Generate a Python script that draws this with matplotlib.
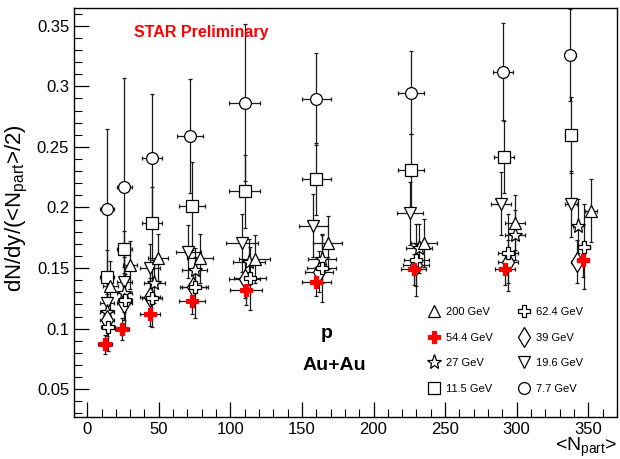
#!/usr/bin/env python3
"""Proton dN/dy per participant pair vs <Npart> in Au+Au, STAR BES."""

import matplotlib
matplotlib.use("Agg")
import matplotlib.pyplot as plt
from matplotlib.lines import Line2D
from matplotlib.ticker import MultipleLocator

plt.rcParams['font.family'] = ['Liberation Sans', 'DejaVu Sans']

# centrality-wise horizontal (Npart) uncertainties, shared by all energies
npart_err = [5, 5, 7, 9, 11, 10, 9, 7, 4]

# 7.7 GeV
npart_7 = [13.9, 26.0, 45.0, 72.0, 110.0, 160.0, 226.0, 290.5, 337.5]
val_7 = [0.1988, 0.2167, 0.2406, 0.2592, 0.2865, 0.2895, 0.2947, 0.312, 0.3256]
err_7 = [0.066, 0.09, 0.053, 0.047, 0.065, 0.038, 0.034, 0.040, 0.038]

# 11.5 GeV
npart_11 = [14.0, 26.0, 45.0, 73.0, 110.0, 160.0, 226.0, 291.0, 338.0]
val_11 = [0.1429, 0.1655, 0.187, 0.2012, 0.2134, 0.2235, 0.2307, 0.2417, 0.2598]
err_11 = [0.022, 0.015, 0.03, 0.036, 0.03, 0.03, 0.03, 0.03, 0.031]

# 19.6 GeV
npart_19 = [14.0, 26.0, 44.0, 70.7, 108.0, 158.0, 225.5, 289.0, 338.0]
val_19 = [0.121, 0.1388, 0.1498, 0.1635, 0.1705, 0.185, 0.1952, 0.2029, 0.2029]
err_19 = [0.018, 0.02, 0.02, 0.022, 0.024, 0.026, 0.026, 0.026, 0.027]

# 27 GeV
npart_27 = [14.0, 26.0, 47.0, 75.0, 113.0, 164.0, 232.0, 299.0, 343.0]
val_27 = [0.114, 0.1297, 0.138, 0.1484, 0.155, 0.1575, 0.1663, 0.1773, 0.1847]
err_27 = [0.015, 0.016, 0.017, 0.018, 0.019, 0.02, 0.02, 0.021, 0.022]

# 39 GeV
npart_39 = [14.0, 26.0, 44.0, 74.0, 110.0, 162.0, 229.5, 294.0, 342.0]
val_39 = [0.107, 0.1215, 0.1264, 0.134, 0.141, 0.147, 0.1526, 0.1553, 0.1553]
err_39 = [0.013, 0.014, 0.015, 0.016, 0.016, 0.017, 0.017, 0.018, 0.018]

# 54.4 GeV
npart_54 = [12.5, 24.4, 44.0, 73.0, 111.0, 160.0, 228.0, 292.0, 346.5]
val_54 = [0.0871, 0.1, 0.1119, 0.1229, 0.1319, 0.1388, 0.149, 0.149, 0.1567]
err_54 = [0.008, 0.009, 0.01, 0.011, 0.012, 0.012, 0.013, 0.013, 0.014]

# 62.4 GeV
npart_62 = [14.6, 26.5, 45.3, 75.3, 113.7, 163.8, 230.0, 294.0, 347.0]
val_62 = [0.1017, 0.1235, 0.1253, 0.1342, 0.1416, 0.1498, 0.1567, 0.1627, 0.1677]
err_62 = [0.02, 0.022, 0.024, 0.025, 0.026, 0.028, 0.03, 0.032, 0.035]

# 200 GeV
npart_200 = [16.2, 29.7, 49.3, 78.8, 117.0, 168.0, 235.0, 299.0, 352.0]
val_200 = [0.1355, 0.1526, 0.158, 0.158, 0.1575, 0.171, 0.1705, 0.1875, 0.1971]
err_200 = [0.02, 0.02, 0.02, 0.02, 0.02, 0.022, 0.02, 0.023, 0.026]

# (label, x, y, yerr, marker, size, face, edge) in drawing order
series = [
    ("7.7 GeV", npart_7, val_7, err_7, 'o', 8.5, 'white', 'black'),
    ("11.5 GeV", npart_11, val_11, err_11, 's', 8, 'white', 'black'),
    ("19.6 GeV", npart_19, val_19, err_19, 'v', 9, 'white', 'black'),
    ("27 GeV", npart_27, val_27, err_27, '*', 11, 'white', 'black'),
    ("39 GeV", npart_39, val_39, err_39, 'd', 10, 'white', 'black'),
    ("62.4 GeV", npart_62, val_62, err_62, 'P', 8.5, 'white', 'black'),
    ("200 GeV", npart_200, val_200, err_200, '^', 9, 'white', 'black'),
    ("54.4 GeV", npart_54, val_54, err_54, 'P', 8, 'red', 'red'),
]

fig = plt.figure(figsize=(6.2, 4.59), dpi=100)
ax = fig.add_axes([0.1194, 0.0915, 0.8756, 0.8911])

styles = {}
for label, x, y, yerr, mk, ms, face, edge in series:
    ax.errorbar(x, y, yerr=yerr, xerr=npart_err, fmt=mk, ms=ms,
                mfc=face, mec=edge, mew=0.9, ecolor='#1a1a1a', elinewidth=0.9,
                capsize=1.5, capthick=0.9)
    styles[label] = (mk, ms, face, edge)

ax.set_xlim(-9.2, 370)
ax.set_ylim(0.0271, 0.3646)

ax.xaxis.set_major_locator(MultipleLocator(50))
ax.xaxis.set_minor_locator(MultipleLocator(10))
ax.yaxis.set_major_locator(MultipleLocator(0.05))
ax.yaxis.set_minor_locator(MultipleLocator(0.01))
ax.tick_params(which='both', direction='in', top=False, right=False, labelsize=12)
ax.tick_params(which='major', length=11, width=0.9)
ax.tick_params(which='minor', length=5.5, width=0.8)
ax.set_yticks([0.05, 0.1, 0.15, 0.2, 0.25, 0.3, 0.35])
ax.set_yticklabels(['0.05', '0.1', '0.15', '0.2', '0.25', '0.3', '0.35'])
for sp in ax.spines.values():
    sp.set_linewidth(1.0)

ax.set_ylabel('dN/dy/(<N$_{\\mathregular{part}}$>/2)', fontsize=16)
ax.yaxis.set_label_coords(-0.082, 0.51)
fig.text(0.995, 0.0, '<N$_{\\mathregular{part}}$>', fontsize=14,
         ha='right', va='bottom')

ax.text(0.235, 0.94, 'STAR Preliminary', color='red', fontsize=11.5,
        fontweight='bold', ha='center', va='center', transform=ax.transAxes)
ax.text(0.465, 0.205, 'p', fontsize=14, fontweight='bold',
        ha='center', va='center', transform=ax.transAxes)
ax.text(0.48, 0.127, 'Au+Au', fontsize=14, fontweight='bold',
        ha='center', va='center', transform=ax.transAxes)

legend_order = ["200 GeV", "54.4 GeV", "27 GeV", "11.5 GeV",
                "62.4 GeV", "39 GeV", "19.6 GeV", "7.7 GeV"]
handles = []
for lab in legend_order:
    mk, ms, face, edge = styles[lab]
    handles.append(Line2D([], [], ls='none', marker=mk, ms=ms,
                          mfc=face, mec=edge, mew=0.9))
ax.legend(handles, legend_order, ncol=2, frameon=False, fontsize=8,
          loc='upper left', bbox_to_anchor=(0.64, 0.283), borderpad=0,
          handlelength=1.2, handletextpad=0.5, columnspacing=2.2,
          labelspacing=1.42)

fig.savefig('out.png', dpi=100)
